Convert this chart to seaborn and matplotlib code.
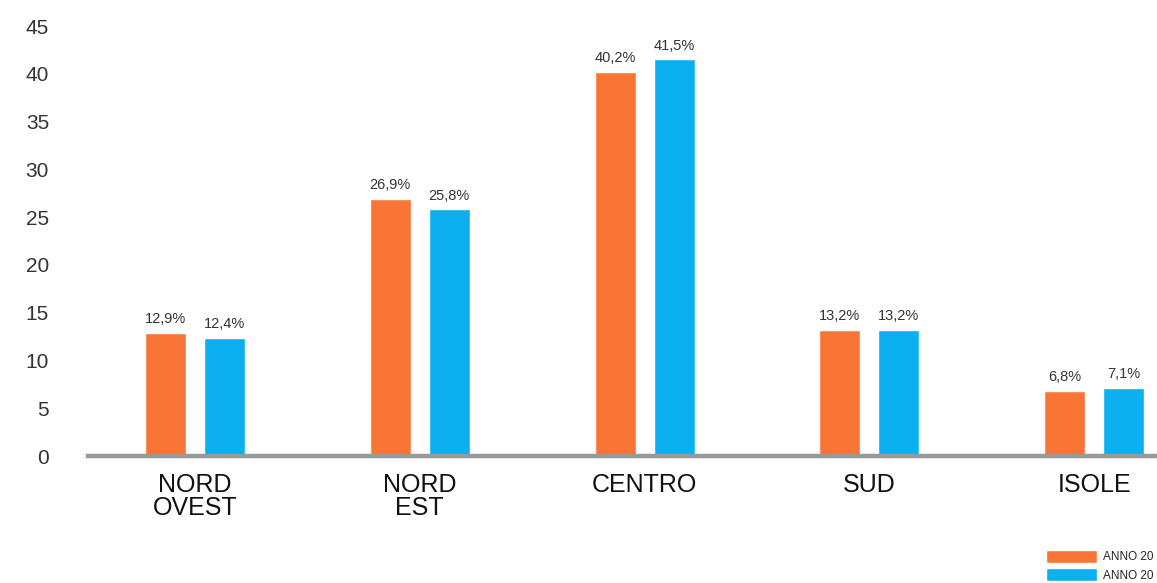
import matplotlib
matplotlib.use("Agg")
import matplotlib.pyplot as plt
import seaborn as sns
import pandas as pd

# dati
regioni = ["NORD\nOVEST", "NORD\nEST", "CENTRO", "SUD", "ISOLE"]
anni = ["ANNO 20 ", "ANNO 20"]
valori_a = [12.9, 26.9, 40.2, 13.2, 6.8]
valori_b = [12.4, 25.8, 41.5, 13.2, 7.1]
y_ticks = [0, 5, 10, 15, 20, 25, 30, 35, 40, 45]

df = pd.DataFrame({
    "Regione": regioni * 2,
    "Anno": [anni[0]] * len(regioni) + [anni[1]] * len(regioni),
    "Valore": valori_a + valori_b,
})

sns.set_theme(style="white")
plt.rcParams["font.family"] = ["Liberation Sans", "DejaVu Sans"]

fig = plt.figure(figsize=(11.57, 5.83), dpi=100)
ax = fig.add_axes([88 / 1157, 1 - 456 / 583, 1 - 88 / 1157, 430 / 583])

colori = ["#F97535", "#0CB0F0"]
sns.barplot(data=df, x="Regione", y="Valore", hue="Anno", palette=colori,
            width=0.525, gap=0.305, ax=ax, legend=True, saturation=1)

for cont, vals in zip(ax.containers, [valori_a, valori_b]):
    ax.bar_label(cont, labels=[f"{v:.1f}%".replace(".", ",") for v in vals],
                 padding=5, fontsize=10.5, color="#333333")

ax.set_ylim(0, 45)
ax.set_xlim(-0.476, 4.28)
ax.set_yticks(y_ticks)
ax.set_yticklabels([str(t) for t in y_ticks], fontsize=15, color="#333333")
ax.tick_params(axis="y", length=0, pad=28)
ax.tick_params(axis="x", length=0, pad=12, labelsize=18, labelcolor="#111111")
for lab in ax.get_xticklabels():
    lab.set_linespacing(0.95)
ax.set_xlabel("")
ax.set_ylabel("")
for s in ["top", "right", "left"]:
    ax.spines[s].set_visible(False)
ax.spines["bottom"].set_color("#999999")
ax.spines["bottom"].set_linewidth(3.2)
ax.grid(False)

handles, labels = ax.get_legend_handles_labels()
ax.get_legend().remove()
fig.legend(handles, labels, loc="lower left", bbox_to_anchor=(1038 / 1157, -0.012),
           frameon=False, fontsize=8.5, handlelength=4.3, handleheight=1.35,
           labelspacing=0.4, handletextpad=0.5, borderpad=0.2)

fig.savefig("out.png", dpi=100)
